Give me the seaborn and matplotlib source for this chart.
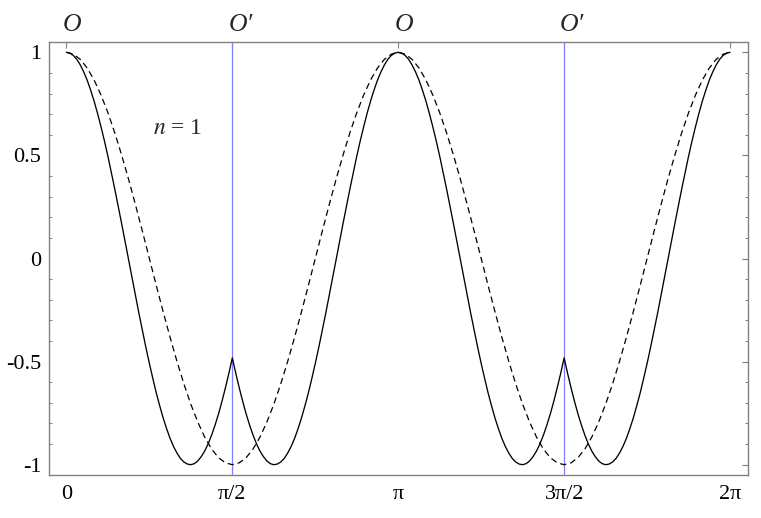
import numpy as np
import pandas as pd
import matplotlib
matplotlib.use("Agg")
import matplotlib.pyplot as plt
import matplotlib.transforms as mtransforms
import seaborn as sns
from matplotlib.ticker import FixedLocator, MultipleLocator

# ---- data ----
# solid curve sampled every pi/96 on [0, 2pi]
x_solid = np.linspace(0, 2 * np.pi, 193)
solid_vals = [
    # 0 .. pi/2
    1.000, 0.996, 0.985, 0.966, 0.939, 0.905, 0.865, 0.817, 0.764, 0.704,
    0.639, 0.570, 0.496, 0.417, 0.336, 0.252, 0.167, 0.080, -0.008, -0.095,
    -0.182, -0.268, -0.351, -0.432, -0.509, -0.582, -0.652, -0.715, -0.774, -0.826,
    -0.873, -0.912, -0.944, -0.970, -0.987, -0.997, -1.000, -0.995, -0.982, -0.961,
    -0.934, -0.899, -0.857, -0.808, -0.754, -0.693, -0.627, -0.557, -0.482,
    # pi/2 .. pi
    -0.557, -0.627, -0.693, -0.754, -0.808, -0.857, -0.899, -0.934, -0.961, -0.982,
    -0.995, -1.000, -0.997, -0.987, -0.970, -0.944, -0.912, -0.873, -0.826, -0.774,
    -0.715, -0.652, -0.582, -0.509, -0.432, -0.351, -0.268, -0.182, -0.095, -0.008,
    0.080, 0.167, 0.252, 0.336, 0.417, 0.496, 0.570, 0.639, 0.704, 0.764,
    0.817, 0.865, 0.905, 0.939, 0.966, 0.985, 0.996, 1.000,
    # pi .. 3pi/2
    0.996, 0.985, 0.966, 0.939, 0.905, 0.865, 0.817, 0.764, 0.704,
    0.639, 0.570, 0.496, 0.417, 0.336, 0.252, 0.167, 0.080, -0.008, -0.095,
    -0.182, -0.268, -0.351, -0.432, -0.509, -0.582, -0.652, -0.715, -0.774, -0.826,
    -0.873, -0.912, -0.944, -0.970, -0.987, -0.997, -1.000, -0.995, -0.982, -0.961,
    -0.934, -0.899, -0.857, -0.808, -0.754, -0.693, -0.627, -0.557, -0.482,
    # 3pi/2 .. 2pi
    -0.557, -0.627, -0.693, -0.754, -0.808, -0.857, -0.899, -0.934, -0.961, -0.982,
    -0.995, -1.000, -0.997, -0.987, -0.970, -0.944, -0.912, -0.873, -0.826, -0.774,
    -0.715, -0.652, -0.582, -0.509, -0.432, -0.351, -0.268, -0.182, -0.095, -0.008,
    0.080, 0.167, 0.252, 0.336, 0.417, 0.496, 0.570, 0.639, 0.704, 0.764,
    0.817, 0.865, 0.905, 0.939, 0.966, 0.985, 0.996, 1.000,
]

# dashed curve sampled every pi/48 on [0, 2pi]
x_dashed = np.linspace(0, 2 * np.pi, 97)
dashed_vals = [
    1.000, 0.991, 0.966, 0.924, 0.866, 0.793, 0.707, 0.609, 0.500, 0.383,
    0.259, 0.131, 0.000, -0.131, -0.259, -0.383, -0.500, -0.609, -0.707, -0.793,
    -0.866, -0.924, -0.966, -0.991, -1.000,
    -0.991, -0.966, -0.924, -0.866, -0.793, -0.707, -0.609, -0.500, -0.383, -0.259,
    -0.131, 0.000, 0.131, 0.259, 0.383, 0.500, 0.609, 0.707, 0.793, 0.866,
    0.924, 0.966, 0.991, 1.000,
    0.991, 0.966, 0.924, 0.866, 0.793, 0.707, 0.609, 0.500, 0.383,
    0.259, 0.131, 0.000, -0.131, -0.259, -0.383, -0.500, -0.609, -0.707, -0.793,
    -0.866, -0.924, -0.966, -0.991, -1.000,
    -0.991, -0.966, -0.924, -0.866, -0.793, -0.707, -0.609, -0.500, -0.383, -0.259,
    -0.131, 0.000, 0.131, 0.259, 0.383, 0.500, 0.609, 0.707, 0.793, 0.866,
    0.924, 0.966, 0.991, 1.000,
]

x_ticks = [0, np.pi / 2, np.pi, 3 * np.pi / 2, 2 * np.pi]
x_tick_labels = ["0", "π/2", "π", "3π/2", "2π"]
y_ticks = [-1, -0.5, 0, 0.5, 1]
y_tick_labels = ["-1", "-0.5", "0", "0.5", "1"]
top_labels = ["O", "O′", "O", "O′"]
top_label_x = [0, np.pi / 2, np.pi, 3 * np.pi / 2]
vline_x = [np.pi / 2, 3 * np.pi / 2]

df_solid = pd.DataFrame({"x": x_solid, "y": solid_vals})
df_dashed = pd.DataFrame({"x": x_dashed, "y": dashed_vals})

# ---- style ----
sns.set_theme(style="white")
plt.rcParams["font.family"] = ["Liberation Serif", "DejaVu Serif"]
plt.rcParams["mathtext.fontset"] = "stix"
plt.rcParams["axes.unicode_minus"] = False

fig = plt.figure(figsize=(7.61, 5.18), dpi=100)
ax = fig.add_axes([49 / 761, 1 - 475 / 518, (748 - 49) / 761, (475 - 42) / 518])

frame_col = "#808080"

for xv in vline_x:
    ax.axvline(xv, color="#7f7fff", lw=0.9, zorder=1)

sns.lineplot(data=df_dashed, x="x", y="y", ax=ax, color="black", lw=0.9, sort=False, zorder=2)
ax.lines[-1].set_dashes([5, 3.2])
sns.lineplot(data=df_solid, x="x", y="y", ax=ax, color="black", lw=0.95, sort=False, zorder=3)

ax.set_xlim(-0.165, 2 * np.pi + 0.17)
ax.set_ylim(-1.05, 1.05)
ax.set_xlabel("")
ax.set_ylabel("")

ax.xaxis.set_major_locator(FixedLocator(x_ticks))
ax.set_xticklabels(x_tick_labels)
ax.yaxis.set_major_locator(FixedLocator(y_ticks))
ax.set_yticklabels(y_tick_labels)
ax.yaxis.set_minor_locator(MultipleLocator(0.1))

ax.tick_params(axis="both", which="both", direction="in", colors=frame_col,
               labelcolor="black", labelsize=16, top=True, right=True)
ax.tick_params(axis="x", which="major", length=4, width=0.8, pad=7.5)
ax.tick_params(axis="y", which="major", length=4.5, width=0.8, pad=5.5)
ax.tick_params(axis="y", which="minor", length=2.5, width=0.7, left=True, right=True)
ax.tick_params(axis="x", which="minor", bottom=False, top=False)

for sp in ax.spines.values():
    sp.set_color(frame_col)
    sp.set_linewidth(1.0)
    sp.set_visible(True)

blend = mtransforms.blended_transform_factory(ax.transData, ax.transAxes)
shift = mtransforms.ScaledTranslation(-4 / 100, 0, fig.dpi_scale_trans)
for lx, lt in zip(top_label_x, top_labels):
    ax.text(lx, 1 + 11 / 433, lt, transform=blend + shift,
            ha="left", va="baseline", fontsize=18.5, style="italic",
            fontfamily="Liberation Serif")

ax.text(1.053, 0.629, r"$n$ = 1", ha="center", va="center", fontsize=17,
        fontfamily="Liberation Serif")

fig.savefig("out.png", dpi=100)
